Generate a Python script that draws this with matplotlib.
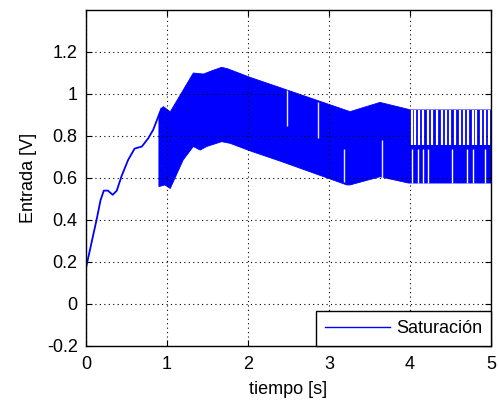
import matplotlib
matplotlib.use("Agg")
import matplotlib.pyplot as plt

# ---- data ----
t_init = [0.0, 0.01, 0.13, 0.18, 0.22, 0.27, 0.33, 0.38, 0.44, 0.52, 0.60, 0.69, 0.77, 0.83, 0.89, 0.93]
v_init = [0.17, 0.19, 0.40, 0.495, 0.54, 0.54, 0.52, 0.54, 0.61, 0.686, 0.74, 0.75, 0.79, 0.83, 0.89, 0.93]

upper_t = [0.90, 0.93, 0.955, 1.04, 1.325, 1.45, 1.55, 1.675, 1.75, 2.02, 2.40, 3.26, 3.63, 3.98, 4.00, 5.00]
upper_v = [0.90, 0.93, 0.94, 0.915, 1.10, 1.095, 1.11, 1.127, 1.12, 1.08, 1.03, 0.916, 0.96, 0.927, 0.924, 0.924]

lower_t = [0.90, 0.91, 0.975, 1.04, 1.20, 1.325, 1.41, 1.49, 1.675, 1.78, 2.02, 2.40, 3.22, 3.26, 3.63, 3.98, 4.00, 5.00]
lower_v = [0.56, 0.56, 0.567, 0.55, 0.686, 0.75, 0.733, 0.75, 0.773, 0.765, 0.73, 0.68, 0.567, 0.567, 0.606, 0.576, 0.576, 0.576]

# white gaps in the chattering band (time, bottom, top)
gap_t = [2.48, 2.87, 3.18, 3.66]
gap_lo = [0.85, 0.79, 0.58, 0.60]
gap_hi = [1.02, 0.96, 0.74, 0.78]

gap_up_t = [4.02, 4.06, 4.11, 4.165, 4.22, 4.27, 4.33, 4.39, 4.44, 4.49, 4.56, 4.62, 4.67, 4.72, 4.78, 4.82, 4.88, 4.93, 4.97]
gap_up_lo, gap_up_hi = 0.757, 0.924
gap_dn_t = [4.02, 4.10, 4.165, 4.22, 4.52, 4.70, 4.78, 4.93]
gap_dn_lo, gap_dn_hi = 0.576, 0.74

xticks = [0, 1, 2, 3, 4, 5]
yticks = [-0.2, 0, 0.2, 0.4, 0.6, 0.8, 1.0, 1.2]
ytick_labels = ["-0.2", "0", "0.2", "0.4", "0.6", "0.8", "1", "1.2"]

plt.rcParams['font.family'] = ['Liberation Sans', 'DejaVu Sans']

fig = plt.figure(figsize=(4.99, 4.0), dpi=100)
ax = fig.add_axes([86/499, 1-346/400, (491-86)/499, (346-10)/400])

blue = (0, 0, 1)
line, = ax.plot(t_init, v_init, color=blue, lw=1.3, label="Saturación")
poly_x = upper_t + lower_t[::-1]
poly_y = upper_v + lower_v[::-1]
ax.fill(poly_x, poly_y, color=blue, lw=0.6, ec=blue)

ax.vlines(gap_t, gap_lo, gap_hi, colors="#e8e8f4", lw=1.0)
ax.vlines(gap_up_t, gap_up_lo, gap_up_hi, colors="white", lw=1.6)
ax.vlines(gap_dn_t, gap_dn_lo, gap_dn_hi, colors="white", lw=1.0)

ax.set_xlim(0, 5)
ax.set_ylim(-0.2, 1.4)
ax.set_xticks(xticks)
ax.set_xticklabels([str(x) for x in xticks])
ax.set_yticks(yticks)
ax.set_yticklabels(ytick_labels)
ax.tick_params(direction="in", top=True, right=True, labelsize=13, length=4)
ax.tick_params(axis="x", pad=7)
ax.tick_params(axis="y", pad=6)
ax.grid(True, linestyle=(0, (1, 3)), color="black", lw=0.8)
for s in ax.spines.values():
    s.set_linewidth(1.0)

ax.set_xlabel("tiempo [s]", fontsize=13, labelpad=6)
ax.set_ylabel("Entrada [V]", fontsize=13, labelpad=7)

leg = ax.legend(handles=[line], loc="lower right", borderaxespad=0, fancybox=False,
                framealpha=1, edgecolor="black", fontsize=13, handlelength=3.6,
                borderpad=0.5, handletextpad=0.3)
leg.get_frame().set_linewidth(1.0)
leg.get_lines()[0].set_linewidth(1.0)

fig.savefig("out.png", dpi=100, facecolor="white")
